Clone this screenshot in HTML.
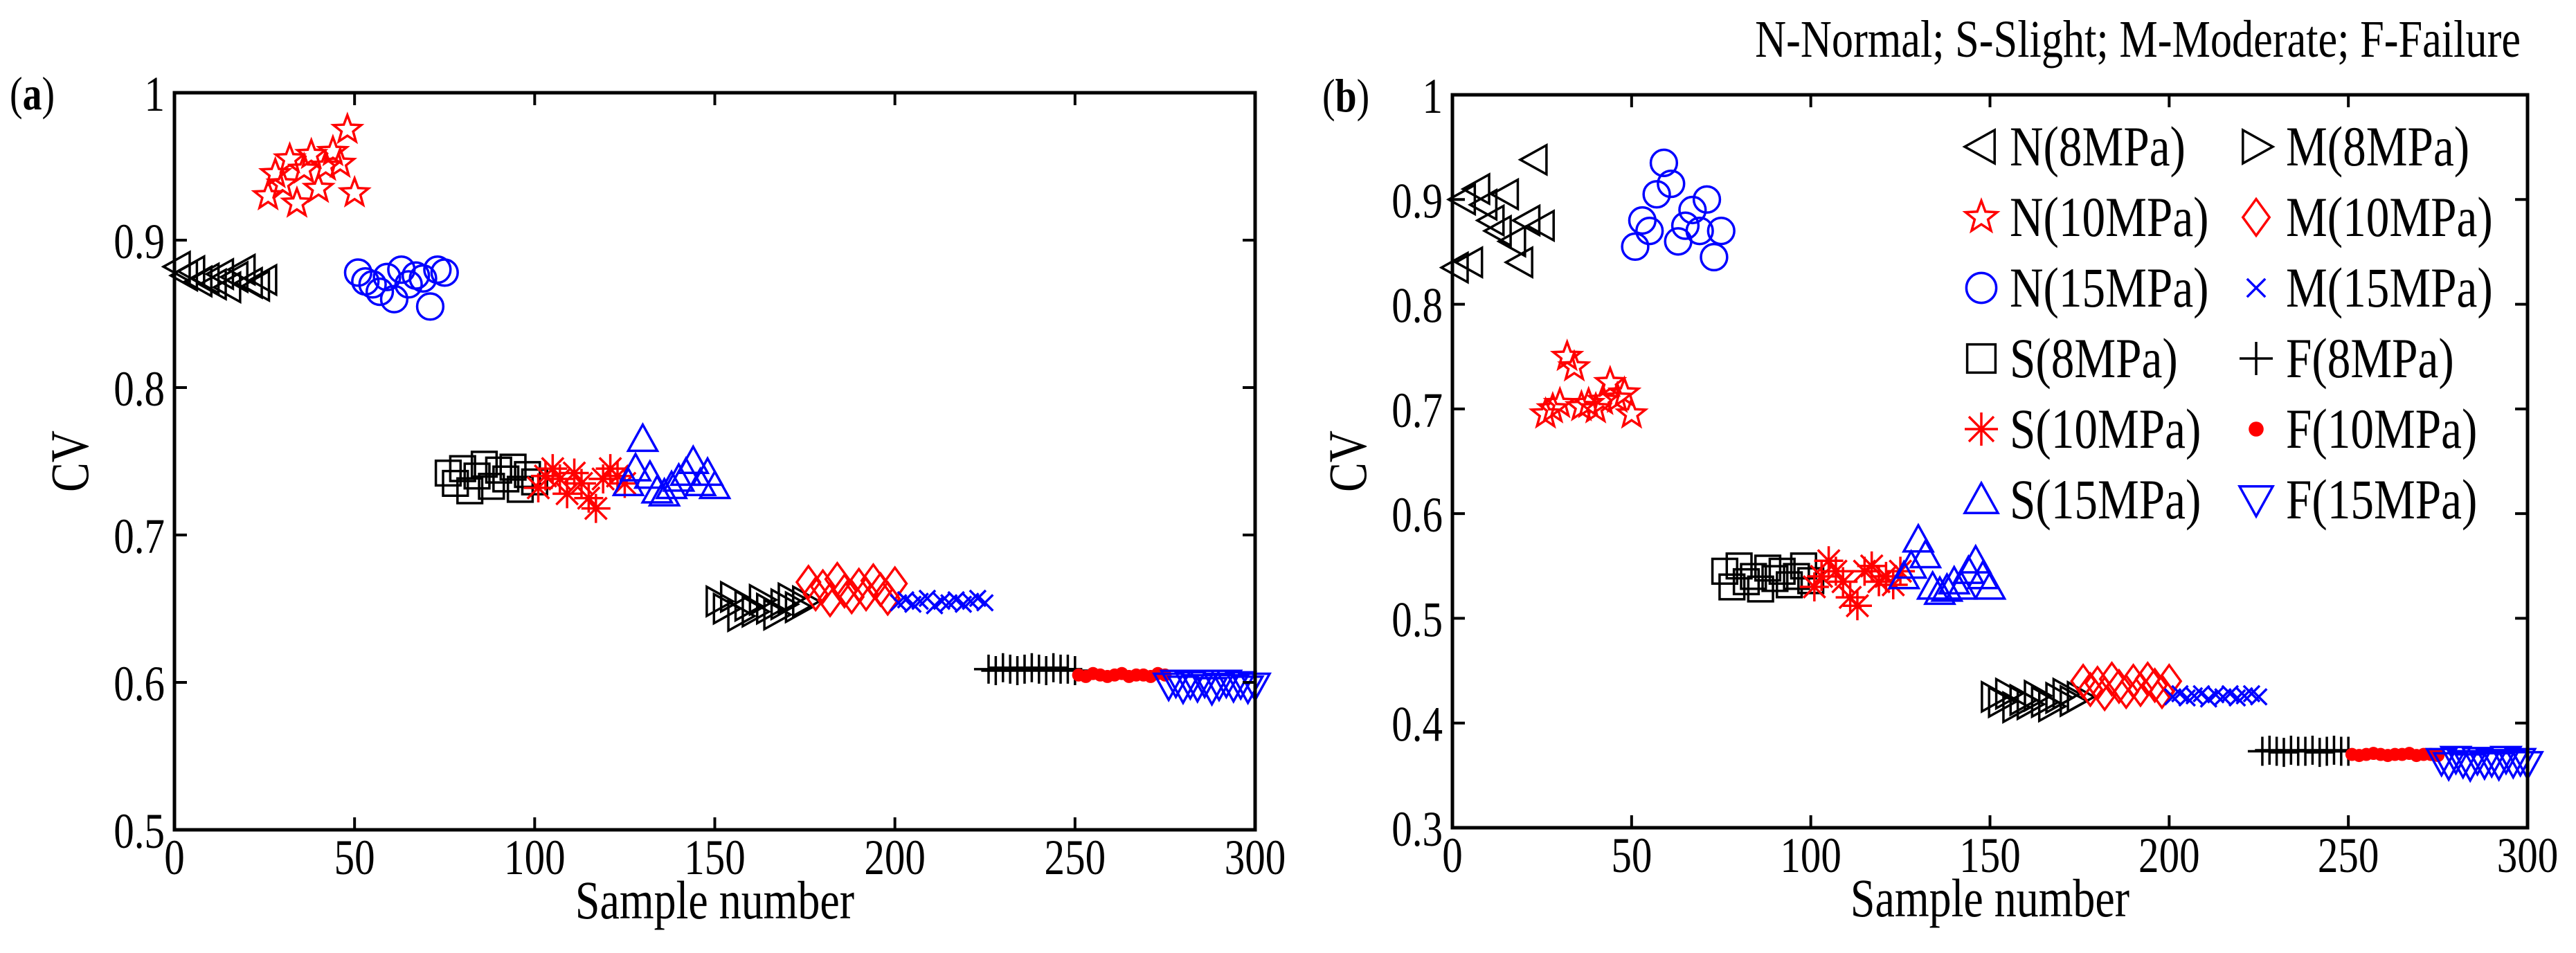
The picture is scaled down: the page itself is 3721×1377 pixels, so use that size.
<!DOCTYPE html>
<html><head><meta charset="utf-8">
<style>
html,body{margin:0;padding:0;background:#fff;}
svg{display:block;}
text{font-family:"Liberation Serif","Times New Roman",serif;}
</style></head>
<body>
<svg id="fig" width="3721" height="1377" viewBox="0 0 3721 1377" xmlns="http://www.w3.org/2000/svg">
<text transform="translate(3641,82) scale(0.82,1)" x="0" y="0" font-size="76" text-anchor="end">N-Normal; S-Slight; M-Moderate; F-Failure</text>
</svg>
<script>
// ---------- data ----------
const groupNames = ['N(8MPa)','N(10MPa)','N(15MPa)','S(8MPa)','S(10MPa)','S(15MPa)','M(8MPa)','M(10MPa)','M(15MPa)','F(8MPa)','F(10MPa)','F(15MPa)'];
const groupStarts = [0,25,50,75,100,125,150,175,200,225,250,275];
const xTicks = [0,50,100,150,200,250,300];
const yTicksA = [0.5,0.6,0.7,0.8,0.9,1];
const yTickLabelsA = ['0.5','0.6','0.7','0.8','0.9','1'];
const yTicksB = [0.3,0.4,0.5,0.6,0.7,0.8,0.9,1];
const yTickLabelsB = ['0.3','0.4','0.5','0.6','0.7','0.8','0.9','1'];

const aN8  = [0.882,0.876,0.879,0.872,0.874,0.870,0.877,0.868,0.875,0.880,0.871,0.869,0.873];
const aN10 = [0.930,0.945,0.938,0.955,0.925,0.948,0.958,0.935,0.950,0.960,0.952,0.975,0.932];
const aN15 = [0.878,0.872,0.870,0.865,0.875,0.860,0.880,0.870,0.876,0.874,0.855,0.880,0.878];
const aS8  = [0.742,0.735,0.745,0.730,0.740,0.748,0.733,0.744,0.738,0.746,0.731,0.741,0.736];
const aS10 = [0.732,0.740,0.745,0.738,0.728,0.742,0.735,0.725,0.718,0.738,0.745,0.740,0.735];
const aS15 = [0.735,0.745,0.765,0.740,0.730,0.728,0.733,0.738,0.742,0.750,0.735,0.742,0.733];
const aM8  = [0.655,0.650,0.658,0.645,0.652,0.648,0.656,0.650,0.646,0.653,0.657,0.651,0.655];
const aM10 = [0.668,0.660,0.665,0.656,0.670,0.662,0.658,0.666,0.660,0.669,0.663,0.657,0.667];
const aM15 = [0.654,0.656,0.653,0.655,0.657,0.652,0.655,0.654,0.656,0.653,0.655,0.657,0.654];
const aF8  = [0.609,0.608,0.610,0.609,0.608,0.609,0.610,0.609,0.608,0.610,0.609,0.609,0.608];
const aF10 = [0.605,0.604,0.606,0.605,0.604,0.605,0.606,0.604,0.605,0.605,0.604,0.606,0.605];
const aF15 = [0.598,0.600,0.596,0.599,0.597,0.600,0.595,0.598,0.600,0.597,0.599,0.596,0.598];

const bN8  = [0.835,0.900,0.840,0.910,0.895,0.880,0.870,0.905,0.860,0.840,0.880,0.938,0.875];
const bN10 = [0.695,0.700,0.705,0.750,0.740,0.702,0.705,0.700,0.708,0.725,0.710,0.715,0.695];
const bN15 = [0.855,0.880,0.870,0.905,0.935,0.915,0.860,0.875,0.890,0.870,0.900,0.845,0.870];
const bS8  = [0.545,0.530,0.550,0.535,0.540,0.528,0.548,0.538,0.545,0.532,0.540,0.550,0.536];
const bS10 = [0.530,0.540,0.555,0.545,0.535,0.520,0.512,0.545,0.550,0.535,0.540,0.532,0.545];
const bS15 = [0.540,0.550,0.575,0.560,0.530,0.525,0.528,0.535,0.530,0.545,0.555,0.540,0.530];
const bM8  = [0.425,0.420,0.428,0.415,0.422,0.418,0.426,0.420,0.416,0.424,0.428,0.421,0.425];
const bM10 = [0.440,0.432,0.438,0.428,0.442,0.435,0.430,0.440,0.432,0.442,0.436,0.430,0.440];
const bM15 = [0.425,0.428,0.424,0.426,0.428,0.423,0.427,0.425,0.428,0.424,0.426,0.428,0.425];
const bF8  = [0.373,0.374,0.373,0.372,0.374,0.373,0.373,0.374,0.372,0.373,0.374,0.373,0.373];
const bF10 = [0.370,0.369,0.370,0.371,0.370,0.369,0.370,0.370,0.371,0.369,0.370,0.370,0.369];
const bF15 = [0.364,0.360,0.366,0.362,0.359,0.365,0.361,0.363,0.360,0.366,0.362,0.364,0.361];

const seriesA = [aN8,aN10,aN15,aS8,aS10,aS15,aM8,aM10,aM15,aF8,aF10,aF15];
const seriesB = [bN8,bN10,bN15,bS8,bS10,bS15,bM8,bM10,bM15,bF8,bF10,bF15];
const markers = ['tl','star','circ','sq','ast','tu','tr','dia','x','plus','dot','td'];
const colors = ['#000','#f00','#00f','#000','#f00','#00f','#000','#f00','#00f','#000','#f00','#00f'];

const NS='http://www.w3.org/2000/svg';
const svg=document.getElementById('fig');
function mk(tag,attrs,parent){const e=document.createElementNS(NS,tag);for(const k in attrs)e.setAttribute(k,attrs[k]);(parent||svg).appendChild(e);return e;}
function txt(x,y,size,anchor,extra,parent){
  return mk('text',{x:0,y:0,'font-size':size,'text-anchor':anchor,transform:`translate(${x},${y}) ${extra||''} scale(0.82,1)`},parent);
}

function markerPath(type,cx,cy,s){
  switch(type){
    case 'tl': return `M${cx-s},${cy} L${cx+s*0.8},${cy-s} L${cx+s*0.8},${cy+s} Z`;
    case 'tr': return `M${cx+s},${cy} L${cx-s*0.8},${cy-s} L${cx-s*0.8},${cy+s} Z`;
    case 'tu': return `M${cx},${cy-s} L${cx+s},${cy+s*0.8} L${cx-s},${cy+s*0.8} Z`;
    case 'td': return `M${cx},${cy+s} L${cx+s},${cy-s*0.8} L${cx-s},${cy-s*0.8} Z`;
    case 'sq': return `M${cx-s*0.85},${cy-s*0.85} h${s*1.7} v${s*1.7} h${-s*1.7} Z`;
    case 'dia': return `M${cx},${cy-s*1.1} L${cx+s*0.8},${cy} L${cx},${cy+s*1.1} L${cx-s*0.8},${cy} Z`;
    case 'x': {const r=s*0.55;return `M${cx-r},${cy-r} L${cx+r},${cy+r} M${cx-r},${cy+r} L${cx+r},${cy-r}`;}
    case 'plus': return `M${cx-s},${cy} L${cx+s},${cy} M${cx},${cy-s} L${cx},${cy+s}`;
    case 'ast': {const r=s*0.75;return `M${cx-s},${cy} L${cx+s},${cy} M${cx},${cy-s} L${cx},${cy+s} M${cx-r},${cy-r} L${cx+r},${cy+r} M${cx-r},${cy+r} L${cx+r},${cy-r}`;}
    case 'star': {let d='';for(let i=0;i<10;i++){const a=-Math.PI/2+i*Math.PI/5;const r=i%2?s*0.42:s;d+=(i?'L':'M')+(cx+r*Math.cos(a)).toFixed(1)+','+(cy+r*Math.sin(a)).toFixed(1);}return d+'Z';}
  }
  return '';
}
function drawMarker(type,cx,cy,s,color,parent,name){
  let e;
  if(type==='circ') e=mk('circle',{cx:cx,cy:cy,r:s*0.9,fill:'none',stroke:color,'stroke-width':3.5},parent);
  else if(type==='dot') e=mk('circle',{cx:cx,cy:cy,r:s*0.45,fill:color,stroke:'none'},parent);
  else e=mk('path',{d:markerPath(type,cx,cy,s),fill:'none',stroke:color,'stroke-width':3.5,'stroke-linejoin':'miter'},parent);
  
  
  return e;
}

function panel(p){
  const g=mk('g',{});
  
  
  const xs=v=>p.L+(v-0)/(300-0)*(p.R-p.L);
  const ys=v=>p.B-(v-p.ymin)/(p.ymax-p.ymin)*(p.B-p.T);
  const sg=mk('g',{},g);
  
  
  p.series.forEach((vals,gi)=>{
    const gg=mk('g',{},sg);
    
    
    vals.forEach((v,i)=>{
      drawMarker(markers[gi],xs(groupStarts[gi]+1+2*i),ys(v),21,colors[gi],gg,'point');
    });
  });
  const box=mk('rect',{x:p.L,y:p.T,width:p.R-p.L,height:p.B-p.T,fill:'none',stroke:'#000','stroke-width':5},g);
  
  
  xTicks.forEach(t=>{
    const x=xs(t);
    mk('line',{x1:x,y1:p.B,x2:x,y2:p.B-18,stroke:'#000','stroke-width':4},g);
    mk('line',{x1:x,y1:p.T,x2:x,y2:p.T+18,stroke:'#000','stroke-width':4},g);
    const tx=txt(x,p.B+64,72,'middle','',g);
    tx.textContent=String(t);
    
    
  });
  p.yt.forEach((t,i)=>{
    const y=ys(t);
    mk('line',{x1:p.L,y1:y,x2:p.L+18,y2:y,stroke:'#000','stroke-width':4},g);
    mk('line',{x1:p.R,y1:y,x2:p.R-18,y2:y,stroke:'#000','stroke-width':4},g);
    const tx=txt(p.L-14,y+26,72,'end','',g);
    tx.textContent=p.ytl[i];
    
    
  });
  const xl=txt((p.L+p.R)/2,p.B+128,78,'middle','',g);
  xl.textContent='Sample number';
  
  
  const yl=mk('text',{x:0,y:0,'font-size':78,'text-anchor':'middle',transform:`translate(${p.L-125},${(p.T+p.B)/2}) rotate(-90) scale(0.82,1)`},g);
  yl.textContent='CV';
  
  
  const pl=txt(p.lx,p.T+24,68,'start','',g);
  pl.innerHTML='(<tspan font-weight="bold">'+p.letter+'</tspan>)';
  
  
  return g;
}

panel({name:'panel-a',L:252,R:1813,T:134,B:1199,ymin:0.5,ymax:1,yt:yTicksA,ytl:yTickLabelsA,series:seriesA,letter:'a',lx:14});
panel({name:'panel-b',L:2098,R:3651,T:137,B:1196,ymin:0.3,ymax:1,yt:yTicksB,ytl:yTickLabelsB,series:seriesB,letter:'b',lx:1910});

const lg=mk('g',{});


const legendOrder=[0,6,1,7,2,8,3,9,4,10,5,11];
legendOrder.forEach((gi,k)=>{
  const col=k%2,row=Math.floor(k/2);
  const mx=col?3259:2862, tx=col?3302:2903, cy=212+row*102;
  const eg=mk('g',{},lg);
  
  
  drawMarker(markers[gi],mx,cy,markers[gi]==='dot'?24:24,colors[gi],eg,'legend-marker');
  const t=txt(tx,cy+27,82,'start','',eg);
  t.textContent=groupNames[gi];
  
  
});
</script>
</body></html>
